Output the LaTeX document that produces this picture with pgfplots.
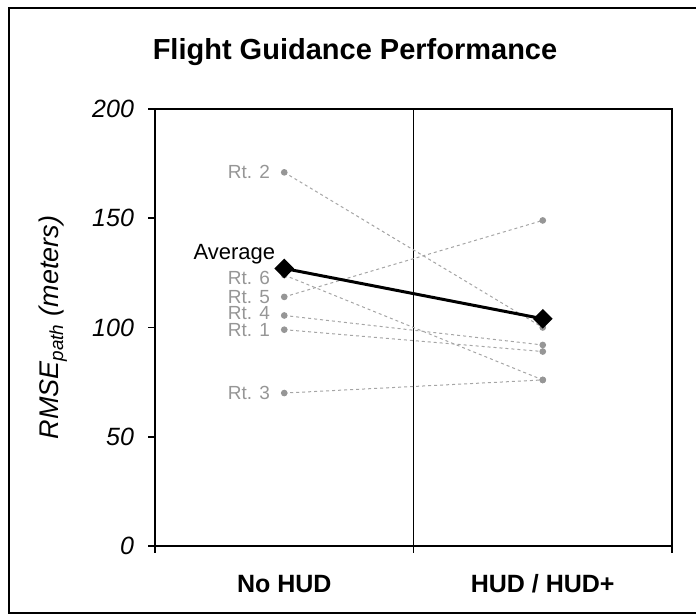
\documentclass[border=0pt]{standalone}
\usepackage{pgfplots}
\pgfplotsset{compat=1.18}
\usepackage{fontspec}
\setmainfont{Liberation Sans}
\definecolor{rtgray}{RGB}{150,150,150}
\definecolor{rtline}{RGB}{165,165,165}

\begin{document}
\begin{tikzpicture}
\path[use as bounding box] (0,0) rectangle (348pt,307.5pt);
% outer chart frame
\draw[line width=0.6pt] (348pt,303.5pt) -- (4.5pt,303.5pt) -- (4.5pt,1pt) -- (348pt,1pt);
\node[anchor=base, font=\bfseries\fontsize{14.5}{17}\selectfont] at (177.5pt,277.5pt) {Flight Guidance Performance};
\begin{axis}[
  at={(77.5pt,34.5pt)}, anchor=south west,
  scale only axis, width=258.5pt, height=218.5pt,
  xmin=0, xmax=2, ymin=0, ymax=200,
  xtick={0,1,2}, xticklabels={},
  ytick={0,50,...,200},
  xtick pos=left, ytick pos=left,
  tick align=outside, major tick length=3.5pt,
  axis line style={line width=0.8pt},
  tick style={black, line width=0.8pt},
  extra x ticks={0.5,1.5},
  extra x tick labels={No HUD, HUD / HUD+},
  extra x tick style={major tick length=0pt,
    xticklabel style={anchor=base, yshift=-23.5pt, font=\bfseries\fontsize{12.5}{15}\selectfont}},
  yticklabel style={font=\itshape\fontsize{12.5}{14}\selectfont, xshift=-3.5pt},
  /pgf/number format/assume math mode=true,
  ylabel={RMSE\textsubscript{path} (meters)},
  ylabel style={at={(axis description cs:-0.197,0.5)}, anchor=center, font=\itshape\fontsize{13.5}{15}\selectfont},
  clip=false,
]
\draw[line width=0.8pt] (axis cs:1,0) -- (axis cs:1,200);

\pgfplotsset{rt/.style={rtline, dash pattern=on 1.5pt off 1.5pt, line width=0.5pt,
  mark=*, mark size=1.4pt, mark options={solid, fill=rtgray, draw=rtgray}}}
% routes
\addplot[rt] coordinates {(0.5,99) (1.5,89)};
\addplot[rt] coordinates {(0.5,171) (1.5,100)};
\addplot[rt] coordinates {(0.5,70) (1.5,76)};
\addplot[rt] coordinates {(0.5,105.5) (1.5,92)};
\addplot[rt] coordinates {(0.5,114) (1.5,149)};
\addplot[rt] coordinates {(0.5,124) (1.5,76)};
% average
\addplot[black, line width=1.5pt, mark=square*, mark size=2.7pt, mark options={rotate=45}]
  coordinates {(0.5,127) (1.5,104)};

\begin{scope}[every node/.style={anchor=east, text=rtgray, inner sep=0pt, font=\fontsize{9.5}{11}\selectfont, xshift=-7pt}]
\node at (axis cs:0.5,99) {Rt. 1};
\node at (axis cs:0.5,171) {Rt. 2};
\node at (axis cs:0.5,70) {Rt. 3};
\node at (axis cs:0.5,106.5) {Rt. 4};
\node at (axis cs:0.5,114) {Rt. 5};
\node at (axis cs:0.5,122.5) {Rt. 6};
\end{scope}
\node[anchor=base east, font=\fontsize{11}{13}\selectfont, xshift=-1pt, yshift=4.5pt] at (axis cs:0.5,127) {Average};
\end{axis}
\end{tikzpicture}
\end{document}
